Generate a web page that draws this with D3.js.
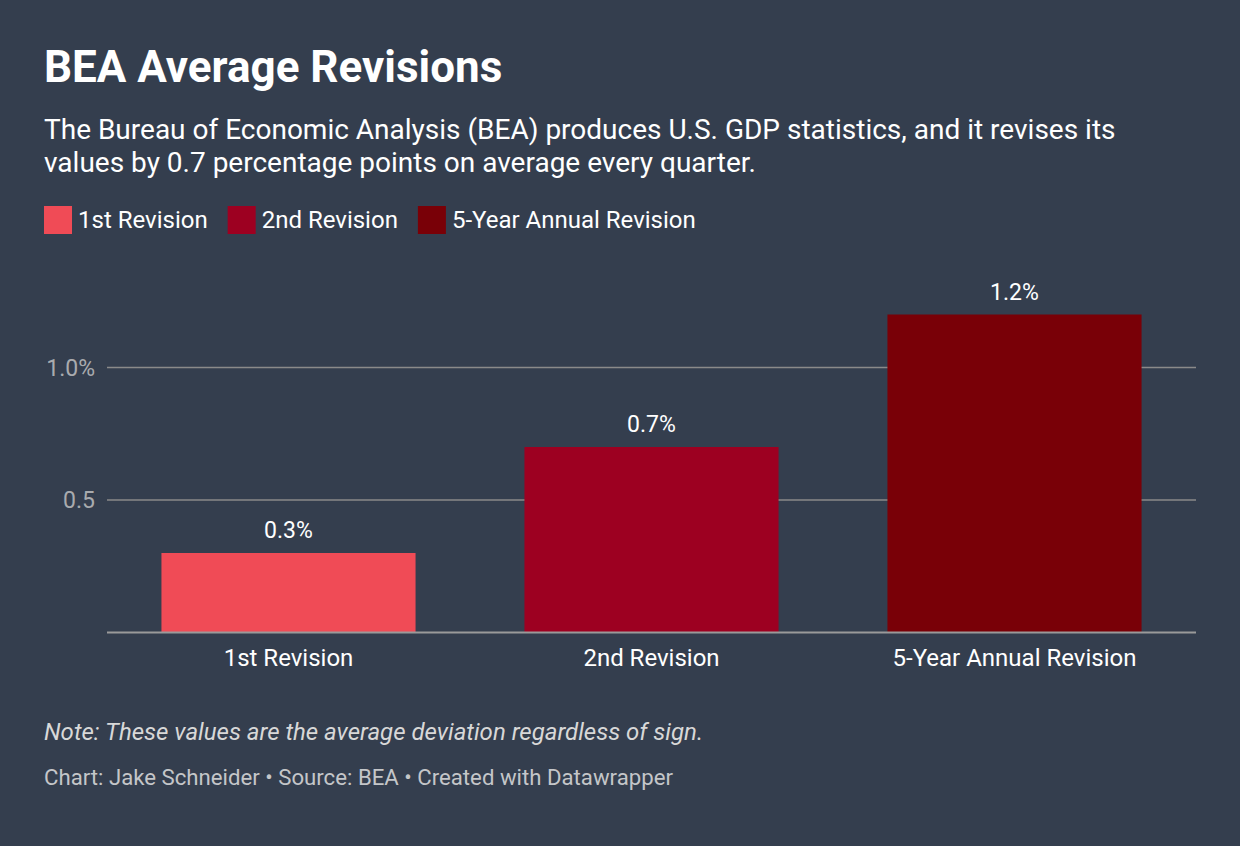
<!DOCTYPE html>
<html>
<head>
<meta charset="utf-8">
<script src="https://cdn.jsdelivr.net/npm/d3@7"></script>
<style>
  body { margin: 0; background: #343e4e; }
  svg { font-family: Roboto, sans-serif; display: block; }
</style>
</head>
<body>
<script>
// data
const categories = ['1st Revision', '2nd Revision', '5-Year Annual Revision'];
const values = [0.3, 0.7, 1.2];
const colors = ['#f04b56', '#9d0021', '#790007'];
const yTicks = [0.5, 1.0];
const yTickLabels = ['0.5', '1.0%'];
const valueLabels = ['0.3%', '0.7%', '1.2%'];

const svgW = 1240, svgH = 846;
const svg = d3.select('body').append('svg')
  .attr('width', svgW)
  .attr('height', svgH);

svg.append('rect').attr('width', svgW).attr('height', svgH).attr('fill', '#343e4e');

// header
svg.append('text')
  .attr('x', 44).attr('y', 82)
  .attr('fill', '#ffffff')
  .attr('font-size', 44).attr('font-weight', 700)
  .text('BEA Average Revisions');

const sub = ['The Bureau of Economic Analysis (BEA) produces U.S. GDP statistics, and it revises its',
             'values by 0.7 percentage points on average every quarter.'];
svg.selectAll('.sub').data(sub).enter().append('text')
  .attr('x', 44).attr('y', (d, i) => 139 + i * 33)
  .attr('fill', '#ffffff')
  .attr('font-size', 28)
  .text(d => d);

// legend
const legend = svg.append('g').attr('transform', 'translate(44,206)');
let lx = 0;
categories.forEach((c, i) => {
  const g = legend.append('g').attr('transform', `translate(${lx},0)`);
  g.append('rect').attr('width', 28).attr('height', 28).attr('fill', colors[i]);
  const t = g.append('text').attr('x', 34).attr('y', 22)
    .attr('fill', '#ffffff').attr('font-size', 24).text(c);
  lx += 34 + t.node().getComputedTextLength() + 20;
});

// scales
const x = d3.scaleBand().domain(categories).range([107, 1196])
  .paddingInner(0.3).paddingOuter(0.15);
const y = d3.scaleLinear().domain([0, 1]).range([632.5, 367.5]);

// grid
svg.selectAll('.grid').data(yTicks).enter().append('line')
  .attr('x1', 107).attr('x2', 1196)
  .attr('y1', d => y(d)).attr('y2', d => y(d))
  .attr('stroke', '#8a8a8a').attr('stroke-width', 1.5);

svg.selectAll('.ylab').data(yTicks).enter().append('text')
  .attr('x', 95).attr('y', d => y(d) + 8)
  .attr('text-anchor', 'end')
  .attr('fill', '#a9abae').attr('font-size', 23)
  .text((d, i) => yTickLabels[i]);

// bars
svg.selectAll('.bar').data(values).enter().append('rect')
  .attr('x', (d, i) => x(categories[i]))
  .attr('width', x.bandwidth())
  .attr('y', d => y(d))
  .attr('height', d => y(0) - y(d))
  .attr('fill', (d, i) => colors[i]);

svg.selectAll('.vlab').data(values).enter().append('text')
  .attr('x', (d, i) => x(categories[i]) + x.bandwidth() / 2)
  .attr('y', d => y(d) - 15)
  .attr('text-anchor', 'middle')
  .attr('fill', '#ffffff').attr('font-size', 23)
  .text((d, i) => valueLabels[i]);

// baseline
svg.append('line')
  .attr('x1', 107).attr('x2', 1196)
  .attr('y1', y(0)).attr('y2', y(0))
  .attr('stroke', '#9a9a9a').attr('stroke-width', 2);

svg.selectAll('.xlab').data(categories).enter().append('text')
  .attr('x', d => x(d) + x.bandwidth() / 2)
  .attr('y', 666)
  .attr('text-anchor', 'middle')
  .attr('fill', '#ffffff').attr('font-size', 24)
  .text(d => d);

// notes
svg.append('text')
  .attr('x', 44).attr('y', 740)
  .attr('fill', '#d8d8d8').attr('font-size', 24).attr('font-style', 'italic')
  .text('Note: These values are the average deviation regardless of sign.');

svg.append('text')
  .attr('x', 44).attr('y', 785)
  .attr('fill', '#c4c6c9').attr('font-size', 22.2)
  .text('Chart: Jake Schneider • Source: BEA • Created with Datawrapper');
</script>
</body>
</html>
